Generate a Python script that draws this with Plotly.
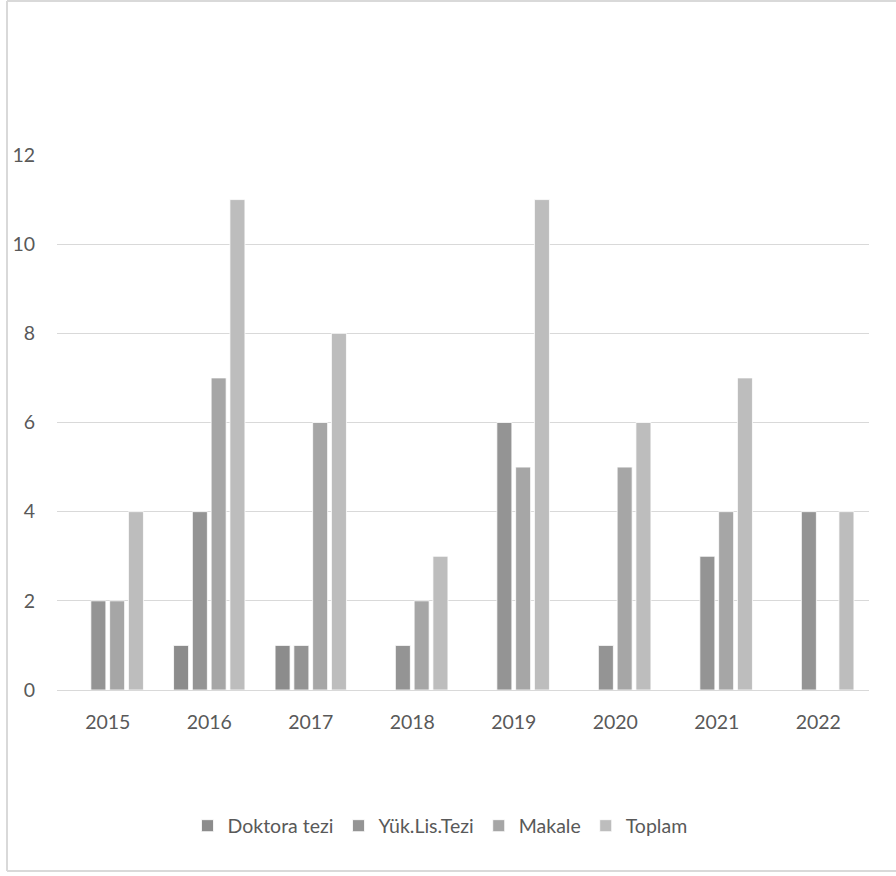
import plotly.graph_objects as go

years = ["2015", "2016", "2017", "2018", "2019", "2020", "2021", "2022"]
doktora = [0, 1, 1, 0, 0, 0, 0, 0]
yuk_lis = [2, 4, 1, 1, 6, 1, 3, 4]
makale = [2, 7, 6, 2, 5, 5, 4, 0]
toplam = [4, 11, 8, 3, 11, 6, 7, 4]

series = [
    ("Doktora tezi", doktora, "#8c8c8c"),
    ("Yük.Lis.Tezi", yuk_lis, "#949494"),
    ("Makale", makale, "#a6a6a6"),
    ("Toplam", toplam, "#bdbdbd"),
]

fig = go.Figure()
for name, vals, col in series:
    fig.add_trace(go.Bar(
        x=years, y=vals, name=name,
        marker=dict(color=col, line=dict(color="#ffffff", width=0.8)),
    ))

FONT = "Lato"
W, H = 896, 876
L, R, T, B = 57, 27, 155, 186
pw = W - L - R
ph = H - T - B
zero_y = H - B


def px_to_paper_x(px):
    return (px - L) / pw


def px_to_paper_y(py):
    return (zero_y - py) / ph


fig.update_layout(
    width=W, height=H,
    margin=dict(l=L, r=R, t=T, b=B),
    paper_bgcolor="white", plot_bgcolor="white",
    barmode="group", bargap=0.26, bargroupgap=0.2,
    font=dict(family=FONT, size=19.5, color="#595959"),
    showlegend=True,
    legend=dict(
        orientation="h", x=px_to_paper_x(440), xanchor="center",
        y=px_to_paper_y(826), yanchor="middle",
        font=dict(family=FONT, size=19.5, color="#595959"),
        traceorder="normal", itemwidth=30,
    ),
    xaxis=dict(
        showgrid=False, showline=True, linecolor="#d9d9d9", linewidth=1.3,
        ticks="", ticklabelstandoff=14,
        tickfont=dict(family=FONT, size=19.5, color="#595959"),
    ),
    yaxis=dict(
        range=[0, 12], dtick=2, tick0=0,
        showgrid=True, gridcolor="#d9d9d9", gridwidth=1.3,
        zeroline=False, showline=False, ticks="",
        ticklabelstandoff=21,
        tickfont=dict(family=FONT, size=19.5, color="#595959"),
    ),
)

# outer chart frame: left, top and bottom edges (right edge lies off-canvas)
fx0, fx1 = px_to_paper_x(7), px_to_paper_x(900)
fy0, fy1 = px_to_paper_y(871), px_to_paper_y(1)
for x0, y0, x1, y1 in [(fx0, fy0, fx0, fy1), (fx0, fy1, fx1, fy1), (fx0, fy0, fx1, fy0)]:
    fig.add_shape(
        type="line", xref="paper", yref="paper",
        x0=x0, y0=y0, x1=x1, y1=y1,
        line=dict(color="#d9d9d9", width=2), layer="below",
    )

fig.write_html(
    "out.html",
    config={"displayModeBar": False},
    post_script="document.body.style.margin='0px';document.body.style.overflow='hidden';",
)
